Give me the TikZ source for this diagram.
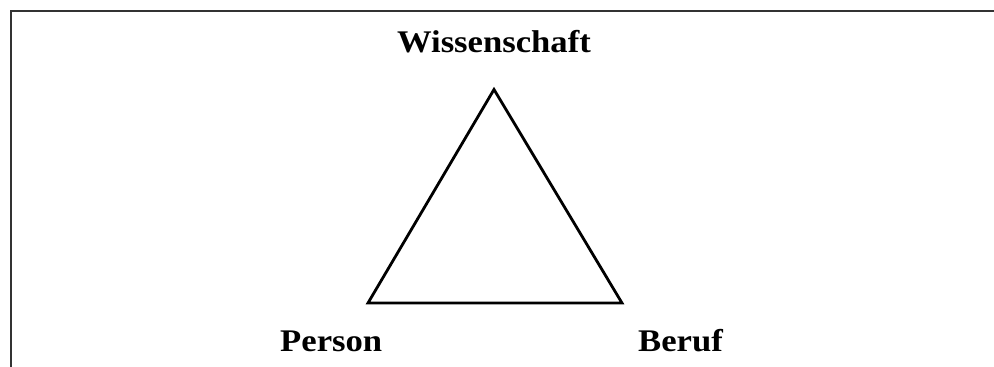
\documentclass[tikz,border=0pt]{standalone}
\usepackage{fontspec}
\setmainfont{Liberation Serif}[FakeStretch=1.1]
\begin{document}
\begin{tikzpicture}[x=1pt,y=1pt,
  lbl/.style={font=\bfseries\fontsize{31.5}{36}\selectfont, inner sep=0pt},
  frame/.style={draw=black!80, line width=2.4pt},
  tri/.style={draw=black, line width=2.8pt, line join=miter}]
\useasboundingbox (0,0) rectangle (994,367);
\coordinate (fl) at (11,0);
\coordinate (fc) at (11,356);
\coordinate (fr) at (994,356);
\draw[frame] (fl) -- (fc) -- (fr);
\coordinate (top) at (494,277.5);
\coordinate (bl) at (368,64);
\coordinate (br) at (622,64);
\draw[tri] (top) -- (br) -- (bl) -- cycle;
\node[lbl, anchor=base] (w) at (494,314) {Wissenschaft};
\node[lbl, anchor=base west] (p) at (280,16) {Person};
\node[lbl, anchor=base west] (b) at (638,16) {Beruf};
\end{tikzpicture}
\end{document}
